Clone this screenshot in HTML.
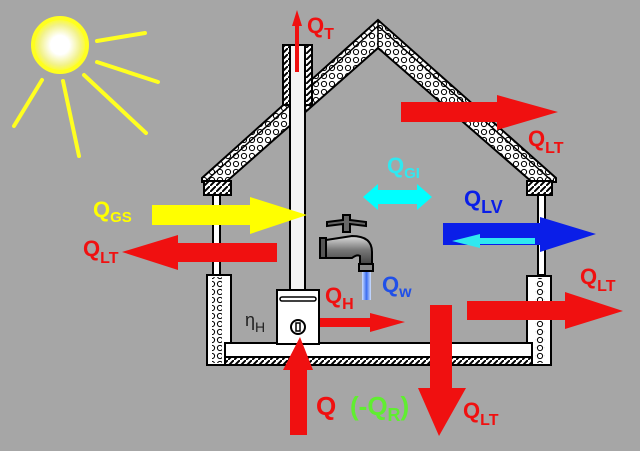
<!DOCTYPE html>
<html><head><meta charset="utf-8"><style>
html,body{margin:0;padding:0;background:#a6a6a6;}
svg{display:block}
text{font-family:"Liberation Sans",sans-serif;font-weight:bold}
</style></head><body>
<svg width="640" height="451" viewBox="0 0 640 451" xmlns="http://www.w3.org/2000/svg">
<defs>
<radialGradient id="sun" cx="0.5" cy="0.5" r="0.5">
<stop offset="0" stop-color="#fff"/><stop offset="0.35" stop-color="#fff"/><stop offset="0.75" stop-color="#f2f28a"/><stop offset="1" stop-color="#ffff20"/>
</radialGradient>
<pattern id="ins" width="8" height="8" patternUnits="userSpaceOnUse">
<rect width="8" height="8" fill="#fff"/><circle cx="4" cy="4" r="2.6" fill="none" stroke="#000" stroke-width="1"/>
</pattern>
<pattern id="hat" width="6" height="6" patternUnits="userSpaceOnUse">
<rect width="6" height="6" fill="#fff"/><path d="M0 6L6 0" stroke="#000" stroke-width="2"/>
</pattern>
<linearGradient id="water" x1="0" x2="1"><stop offset="0" stop-color="#cfe0ff"/><stop offset="0.5" stop-color="#3a6cf0"/><stop offset="1" stop-color="#cfe0ff"/></linearGradient>
<linearGradient id="tap" x1="0" y1="0" x2="0" y2="1"><stop offset="0" stop-color="#ddd"/><stop offset="0.5" stop-color="#777"/><stop offset="1" stop-color="#444"/></linearGradient>
</defs>
<rect width="640" height="451" fill="#a6a6a6"/>
<!-- sun -->
<circle cx="60" cy="45" r="27" fill="url(#sun)" stroke="#ffff20" stroke-width="4"/>
<g stroke="#ffff20" stroke-width="4" stroke-linecap="round">
<line x1="97" y1="41" x2="145" y2="33"/><line x1="97" y1="62" x2="158" y2="82"/>
<line x1="84" y1="75" x2="146" y2="133"/><line x1="63" y1="81" x2="79" y2="156"/>
<line x1="42" y1="80" x2="14" y2="126"/>
</g>
<!-- roof -->
<polygon points="378,20 202,178 202,182 226,182 378,48 532,182 556,182 556,178" fill="url(#ins)" stroke="#000" stroke-width="2"/>
<line x1="378" y1="26" x2="207" y2="180" stroke="#000" stroke-width="1.5"/>
<line x1="378" y1="26" x2="551" y2="180" stroke="#000" stroke-width="1.5"/>
<line x1="378" y1="20" x2="378" y2="48" stroke="#000" stroke-width="1.5"/>
<!-- caps -->
<rect x="204" y="181" width="27" height="14" fill="url(#hat)" stroke="#000" stroke-width="2"/>
<rect x="527" y="181" width="25" height="14" fill="url(#hat)" stroke="#000" stroke-width="2"/>
<!-- thin walls -->
<rect x="213" y="195" width="7" height="80" fill="#fff" stroke="#000" stroke-width="2"/>
<rect x="538" y="195" width="7" height="80" fill="#fff" stroke="#000" stroke-width="2"/>
<!-- thick walls -->
<rect x="207" y="275" width="24" height="90" fill="#fff" stroke="#000" stroke-width="2"/>
<rect x="212" y="277" width="10" height="86" fill="url(#ins)"/>
<rect x="527" y="276" width="24" height="89" fill="#fff" stroke="#000" stroke-width="2"/>
<rect x="535" y="278" width="10" height="85" fill="url(#ins)"/>
<!-- floor -->
<rect x="225" y="343" width="307" height="22" fill="#fff" stroke="#000" stroke-width="2"/>
<line x1="225" y1="357" x2="532" y2="357" stroke="#000" stroke-width="2"/>
<rect x="226" y="358" width="305" height="6" fill="url(#hat)"/>
<!-- chimney -->
<rect x="283" y="45" width="29" height="60" fill="url(#hat)" stroke="#000" stroke-width="2"/>
<rect x="290" y="45" width="15" height="245" fill="#f4f4f4" stroke="#000" stroke-width="2"/>
<!-- boiler -->
<rect x="277" y="290" width="42" height="54" fill="#fff" stroke="#000" stroke-width="2"/>
<rect x="280" y="297" width="36" height="4" rx="2" fill="#fff" stroke="#000" stroke-width="1.5"/>
<circle cx="298" cy="327" r="7" fill="#fff" stroke="#000" stroke-width="2"/>
<rect x="296" y="323" width="4" height="8" fill="none" stroke="#000" stroke-width="1.5"/>
<!-- faucet -->
<g stroke="#000" stroke-width="2">
<path d="M327 222 L343 220 L343 215 L350 215 L350 220 L366 222 L366 226 L350 224 L350 232 L343 232 L343 224 L327 226Z" fill="#666"/>
<rect x="320" y="238" width="6" height="20" fill="#555"/>
<path d="M326 240 L352 236 Q372 236 372 252 L372 264 L360 264 L360 256 Q357 254 352 258 L326 258Z" fill="url(#tap)"/>
<rect x="359" y="264" width="14" height="7" fill="#888"/>
</g>
<rect x="362" y="272" width="9" height="28" fill="url(#water)"/>
<!-- arrows -->
<polygon points="297,10 302,26 299,26 299,72 295,72 295,26 292,26" fill="#f01010"/>
<polygon points="401,102 497,102 497,95 558,112 497,130 497,122 401,122" fill="#f01010"/>
<polygon points="363,197 378,184 378,190 417,190 417,184 432,197 417,210 417,204 378,204 378,210" fill="#00ffff"/>
<polygon points="152,205 250,205 250,197 307,215 250,234 250,225 152,225" fill="#ffff00"/>
<polygon points="277,243 178,243 178,235 122,252 178,270 178,262 277,262" fill="#f01010"/>
<polygon points="443,223 540,223 540,217 596,234 540,252 540,245 443,245" fill="#0a1ee8"/>
<polygon points="535,238 480,238 480,234 452,241 480,248 480,244 535,244" fill="#30e8f0"/>
<polygon points="467,301 565,301 565,292 623,311 565,329 565,320 467,320" fill="#f01010"/>
<polygon points="430,305 452,305 452,388 466,388 439,436 418,388 430,388" fill="#f01010"/>
<polygon points="290,435 307,435 307,370 313,370 300,337 283,370 290,370" fill="#f01010"/>
<polygon points="320,318 370,318 370,313 405,322 370,332 370,327 320,327" fill="#f01010"/>
<!-- labels -->
<g font-size="22">
<text x="307" y="33" fill="#f01010">Q<tspan font-size="16" dy="6">T</tspan></text>
<text x="528" y="146" fill="#f01010">Q<tspan font-size="16" dy="7">LT</tspan></text>
<text x="387" y="173" fill="#30e8f0">Q<tspan font-size="15" dy="5">GI</tspan></text>
<text x="464" y="206" fill="#0a1ee8">Q<tspan font-size="18" dy="7">LV</tspan></text>
<text x="93" y="217" fill="#ffff00">Q<tspan font-size="15" dy="5">GS</tspan></text>
<text x="83" y="256" fill="#f01010">Q<tspan font-size="16" dy="7">LT</tspan></text>
<text x="580" y="284" fill="#f01010">Q<tspan font-size="16" dy="7">LT</tspan></text>
<text x="325" y="303" fill="#f01010">Q<tspan font-size="16" dy="6">H</tspan></text>
<text x="382" y="292" fill="#2050e8">Q<tspan font-size="16" dy="5">w</tspan></text>
<text x="463" y="418" fill="#f01010">Q<tspan font-size="16" dy="7">LT</tspan></text>
<text x="316" y="415" fill="#f01010" font-size="26">Q</text>
<text x="350" y="415" fill="#60ee30" font-size="26">(-Q<tspan font-size="18" dy="6">R</tspan><tspan dy="-6">)</tspan></text>
</g>
<text x="245" y="326" fill="#222" font-size="18" style="font-weight:normal">η<tspan font-size="14" dy="6">H</tspan></text>
</svg>
</body></html>
